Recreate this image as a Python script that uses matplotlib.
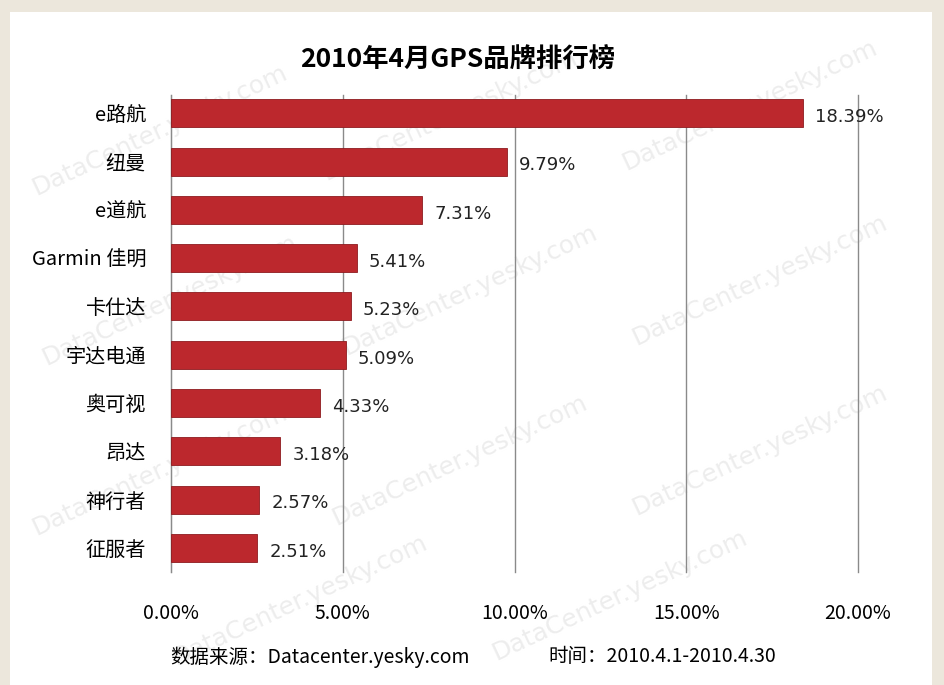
import matplotlib.pyplot as plt
from matplotlib.patches import Rectangle
from matplotlib.ticker import FuncFormatter

plt.rcParams['font.family'] = ['Noto Sans CJK SC', 'DejaVu Sans']

brands = ['e路航', '纽曼', 'e道航', 'Garmin 佳明', '卡仕达', '宇达电通', '奥可视', '昂达', '神行者', '征服者']
shares = [18.39, 9.79, 7.31, 5.41, 5.23, 5.09, 4.33, 3.18, 2.57, 2.51]
ticks = [0, 5, 10, 15, 20]

fig = plt.figure(figsize=(9.44, 6.85), dpi=100)
fig.patch.set_facecolor('#ECE7DC')
fig.patches.append(Rectangle((10 / 944, 0), 922 / 944, 1 - 12 / 685,
                             transform=fig.transFigure, facecolor='white',
                             edgecolor='none', zorder=-2))

# faint watermarks
marks = [(160, 130), (450, 115), (750, 105), (170, 300), (470, 290), (760, 280),
         (160, 470), (460, 460), (760, 450), (300, 600), (620, 595)]
for mx, my in marks:
    fig.text(mx / 944, 1 - my / 685, 'DataCenter.yesky.com', fontsize=18, color='#EDEDED',
             rotation=25, ha='center', va='center', zorder=-1, family='DejaVu Sans')

ax = fig.add_axes([171 / 944, 1 - 572 / 685, 687 / 944, 477 / 685])
ax.set_facecolor('none')
ypos = list(range(len(brands)))
ax.barh(ypos, shares, height=0.58, color='#BC282D', edgecolor='#8E1B1F', linewidth=0.6, zorder=3)
for y, v in zip(ypos, shares):
    ax.text(v + 0.35, y + 0.08, f'{v:.2f}%', va='center', ha='left', fontsize=13,
            color='#222222', family='DejaVu Sans', zorder=4)

ax.set_xlim(0, 20)
ax.set_ylim(9.5, -0.38)
ax.set_xticks(ticks)
ax.xaxis.set_major_formatter(FuncFormatter(lambda v, p: f'{v:.2f}%'))
ax.grid(axis='x', color='#8A8A8A', linewidth=1.0, zorder=1)
for gl in ax.get_xgridlines():
    gl.set_clip_on(False)
ax.set_yticks(ypos)
ax.set_yticklabels(brands, fontsize=14.5)
for s in ['top', 'right', 'bottom']:
    ax.spines[s].set_visible(False)
ax.spines['left'].set_color('#8A8A8A')
ax.tick_params(axis='x', length=0, pad=22, labelsize=14)
ax.tick_params(axis='y', length=0, pad=18)

fig.text(458 / 944, 1 - 60 / 685, '2010年4月GPS品牌排行榜', fontsize=19, fontweight='bold',
         ha='center', va='center')
fig.text(170 / 944, 1 - 657 / 685, '数据来源：Datacenter.yesky.com', fontsize=14,
         ha='left', va='center')
fig.text(548 / 944, 1 - 657 / 685, '时间：2010.4.1-2010.4.30', fontsize=14,
         ha='left', va='center')

fig.savefig('out.png', dpi=100)
